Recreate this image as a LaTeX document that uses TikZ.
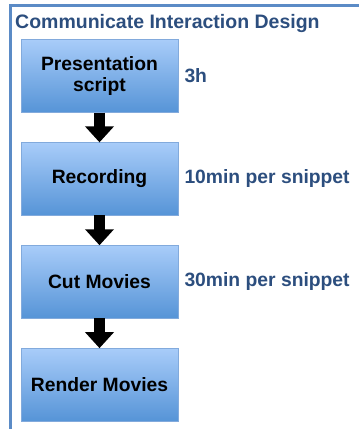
\documentclass[tikz,border=0pt]{standalone}
\usepackage{fontspec}
\setmainfont{Liberation Sans}
\usetikzlibrary{positioning,arrows.meta}
\definecolor{framblue}{RGB}{91,139,198}
\definecolor{txtblue}{RGB}{44,78,126}
\definecolor{boxtop}{RGB}{168,204,249}
\definecolor{boxbot}{RGB}{86,148,215}
\definecolor{boxline}{RGB}{130,170,220}
\tikzset{
	stepbox/.style={draw=boxline, line width=0.6pt, top color=boxtop, bottom color=boxbot,
		minimum width=157pt, minimum height=72.5pt, align=center, inner sep=0pt,
		font=\fontsize{19.3}{21.5}\selectfont\bfseries},
	timelabel/.style={anchor=west, text=txtblue, inner sep=0pt,
		font=\fontsize{19.3}{21.5}\selectfont\bfseries},
	flow/.style={line width=11pt, -{Triangle[width=28pt,length=16pt]}}
}
\begin{document}
\begin{tikzpicture}[x=1pt,y=-1pt]
	\useasboundingbox (0,0) rectangle (359,429);
	\draw[line width=2.5pt, framblue] (359,5.3) -- (10.3,5.3) -- (10.3,429);
	\node[anchor=base west, inner sep=0pt, text=txtblue, font=\fontsize{19.5}{22}\selectfont\bfseries] (title) at (15,28) {Communicate Interaction Design};

	\node[stepbox] (script) at (99.5,76) {Presentation\\script};
	\node[stepbox, below=29.8pt of script] (record) {Recording};
	\node[stepbox, below=29.8pt of record] (cut) {Cut Movies};
	\node[stepbox, below=29.8pt of cut] (render) {Render Movies};

	\node[timelabel, right=6pt of script] (scripttime) {3h};
	\node[timelabel, right=6pt of record] (recordtime) {10min per snippet};
	\node[timelabel, right=6pt of cut] (cuttime) {30min per snippet};

	\draw[flow] (script) -- (record);
	\draw[flow] (record) -- (cut);
	\draw[flow] (cut) -- (render);
\end{tikzpicture}
\end{document}
